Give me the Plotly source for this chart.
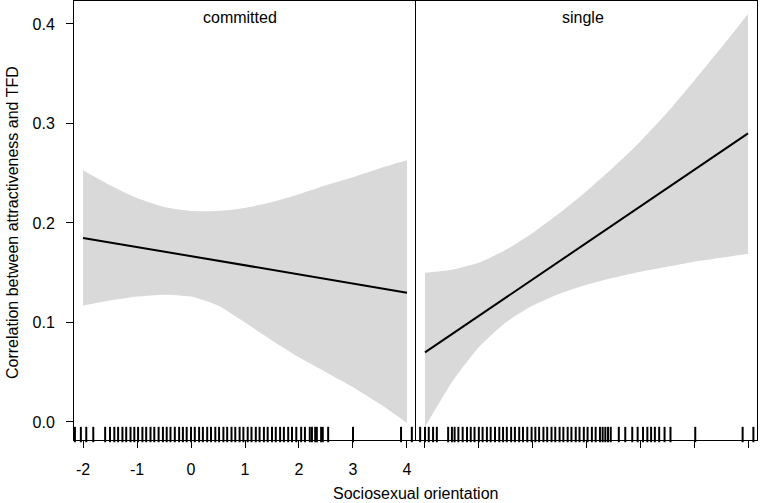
import plotly.graph_objects as go

# ---------------- data ----------------
x_grid = [-2, -1.5, -1, -0.5, 0, 0.5, 1, 1.5, 2, 2.5, 3, 3.5, 4]

committed_fit = [0.185, 0.1804, 0.1758, 0.1713, 0.1667, 0.1621, 0.1575, 0.1529, 0.1483, 0.1438, 0.1392, 0.1346, 0.130]
committed_upper = [0.253, 0.238, 0.225, 0.216, 0.212, 0.212, 0.215, 0.221, 0.229, 0.238, 0.246, 0.255, 0.263]
committed_lower = [0.117, 0.122, 0.126, 0.128, 0.126, 0.117, 0.100, 0.082, 0.065, 0.050, 0.035, 0.018, -0.001]

single_fit = [0.070, 0.0883, 0.1067, 0.125, 0.1433, 0.1617, 0.180, 0.1983, 0.2167, 0.235, 0.2533, 0.2717, 0.290]
single_upper = [0.150, 0.153, 0.160, 0.173, 0.190, 0.210, 0.232, 0.256, 0.282, 0.311, 0.343, 0.376, 0.410]
single_lower = [-0.005, 0.040, 0.075, 0.100, 0.117, 0.129, 0.138, 0.145, 0.151, 0.156, 0.161, 0.165, 0.169]

committed_rug = [-2.15, -2.04, -1.94, -1.81, -1.59, -1.5, -1.42, -1.35, -1.27, -1.2, -1.12, -1.05,
                 -0.98, -0.9, -0.83, -0.75, -0.68, -0.6, -0.52, -0.45, -0.38, -0.3, -0.22, -0.15,
                 -0.08, 0.0, 0.07, 0.15, 0.22, 0.3, 0.37, 0.45, 0.52, 0.6, 0.67, 0.75, 0.82,
                 0.9, 0.97, 1.05, 1.12, 1.2, 1.27, 1.35, 1.42, 1.5, 1.57, 1.65, 1.72, 1.8,
                 1.87, 1.95, 2.04, 2.11, 2.2, 2.24, 2.3, 2.33, 2.41, 2.44, 2.54, 3.0, 3.89, 4.09]
single_rug = [-2.09, -2.0, -1.93, -1.85, -1.78, -1.57, -1.5, -1.45, -1.38, -1.3, -1.22, -1.15,
              -1.08, -1.0, -0.93, -0.85, -0.78, -0.7, -0.62, -0.55, -0.48, -0.4, -0.33, -0.25,
              -0.18, -0.1, -0.02, 0.05, 0.12, 0.2, 0.27, 0.35, 0.42, 0.5, 0.57, 0.65, 0.72,
              0.8, 0.87, 0.95, 1.02, 1.1, 1.17, 1.25, 1.3, 1.35, 1.4, 1.45, 1.6, 1.72, 1.85,
              1.95, 2.05, 2.13, 2.2, 2.27, 2.35, 2.45, 2.56, 3.02, 3.9, 4.1]

x_ticks = [-2, -1, 0, 1, 2, 3, 4]
x_tick_labels = ["-2", "-1", "0", "1", "2", "3", "4"]
y_ticks = [0.0, 0.1, 0.2, 0.3, 0.4]
y_tick_labels = ["0.0", "0.1", "0.2", "0.3", "0.4"]
panel_names = ["committed", "single"]

# ---------------- figure ----------------
FONT = "Arial, Liberation Sans, sans-serif"
BAND = "#d9d9d9"
YR = [-0.0181, 0.4231]
XR = [-2.167, 4.167]
RUG_Y = -0.0126

fig = go.Figure()

panels = [
    ("x", "y", committed_fit, committed_upper, committed_lower, committed_rug),
    ("x2", "y2", single_fit, single_upper, single_lower, single_rug),
]
for xa, ya, fit, up, lo, rug in panels:
    fig.add_trace(go.Scatter(
        x=x_grid, y=lo, mode="lines",
        line=dict(width=0, color=BAND, shape="spline", smoothing=0.6),
        xaxis=xa, yaxis=ya, hoverinfo="skip", showlegend=False))
    fig.add_trace(go.Scatter(
        x=x_grid, y=up, mode="lines", fill="tonexty", fillcolor=BAND,
        line=dict(width=0, color=BAND, shape="spline", smoothing=0.6),
        xaxis=xa, yaxis=ya, hoverinfo="skip", showlegend=False))
    fig.add_trace(go.Scatter(
        x=x_grid, y=fit, mode="lines",
        line=dict(color="black", width=2),
        xaxis=xa, yaxis=ya, showlegend=False))
    fig.add_trace(go.Scatter(
        x=rug, y=[RUG_Y] * len(rug), mode="markers",
        marker=dict(symbol="line-ns", size=11, line=dict(width=2, color="black")),
        xaxis=xa, yaxis=ya, showlegend=False, cliponaxis=False))

split = (416 - 74) / 683

axis_common = dict(showline=True, mirror=True, linecolor="black", linewidth=1,
                   showgrid=False, zeroline=False, ticks="outside", ticklen=7,
                   tickcolor="black", tickwidth=1)

fig.update_layout(
    width=760, height=503,
    margin=dict(l=74, r=3, t=1, b=63),
    paper_bgcolor="white", plot_bgcolor="white",
    font=dict(family=FONT, size=16, color="black"),
    xaxis=dict(domain=[0, split], range=XR, tickvals=x_ticks, ticktext=x_tick_labels,
               anchor="y", ticklabelstandoff=8, **axis_common),
    xaxis2=dict(domain=[split, 1], range=XR, tickvals=x_ticks, showticklabels=False,
                anchor="y2", **axis_common),
    yaxis=dict(range=YR, tickvals=y_ticks, ticktext=y_tick_labels, anchor="x",
               ticklabelstandoff=8, showline=True, mirror=False, linecolor="black",
               linewidth=1, showgrid=False, zeroline=False, ticks="outside", ticklen=7,
               tickcolor="black", tickwidth=1),
    yaxis2=dict(range=YR, anchor="x2", showline=True, mirror=True, linecolor="black",
                linewidth=1, showgrid=False, zeroline=False, ticks="",
                showticklabels=False),
    annotations=[
        dict(text=panel_names[0], x=(240 - 74) / 683, y=(440 - 18) / 439, xref="paper",
             yref="paper", showarrow=False, xanchor="center", yanchor="middle",
             font=dict(size=16)),
        dict(text=panel_names[1], x=(583 - 74) / 683, y=(440 - 18) / 439, xref="paper",
             yref="paper", showarrow=False, xanchor="center", yanchor="middle",
             font=dict(size=16)),
        dict(text="Sociosexual orientation", x=(415 - 74) / 683, y=-(493 - 440) / 439,
             xref="paper", yref="paper", showarrow=False, xanchor="center",
             yanchor="middle", font=dict(size=16)),
        dict(text="Correlation between attractiveness and TFD", x=-(74 - 13) / 683,
             y=(440 - 223) / 439, xref="paper", yref="paper", showarrow=False,
             textangle=-90, xanchor="center", yanchor="middle", font=dict(size=16)),
    ],
)

fig.write_html("out.html", config={"displayModeBar": False},
               post_script="document.body.style.margin='0';document.body.style.padding='0';")
